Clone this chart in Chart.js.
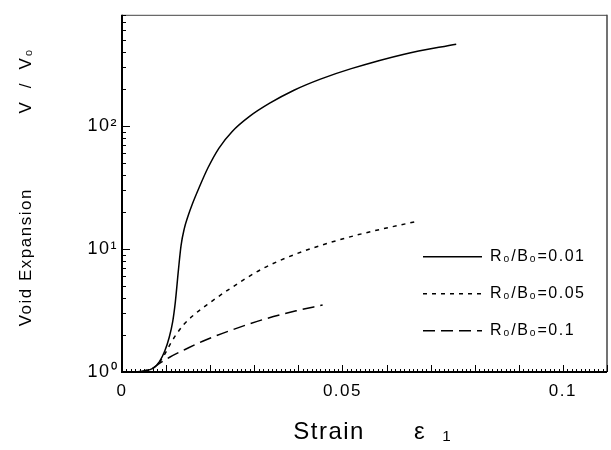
<!DOCTYPE html>
<html>
<head>
<meta charset="utf-8">
<script src="https://cdn.jsdelivr.net/npm/chart.js@4/dist/chart.umd.min.js"></script>
<style>
  body { margin: 0; background: #fff; }
  canvas { display: block; }
</style>
</head>
<body>
<canvas id="graph" width="611" height="450"></canvas>
<script>
// (strain eps_1 vs V/V0)
var strain001 = [0.003, 0.005, 0.007, 0.0085, 0.0097, 0.0107, 0.0115, 0.0121, 0.0128, 0.0134, 0.0141, 0.015, 0.016, 0.0175, 0.0195, 0.022, 0.025, 0.029, 0.0335, 0.039, 0.045, 0.052, 0.064, 0.0758];
var void001 = [1.0, 1.021, 1.072, 1.216, 1.479, 1.905, 2.57, 3.72, 6.76, 10.7, 14.5, 18.6, 23.4, 31.6, 45.7, 66.1, 90.2, 120, 153, 195, 240, 292, 383, 462];

var strain005 = [0.003, 0.005, 0.007, 0.0085, 0.0097, 0.011, 0.0123, 0.014, 0.016, 0.0198, 0.0244, 0.0319, 0.0395, 0.047, 0.0546, 0.0663];
var void005 = [1.0, 1.021, 1.072, 1.202, 1.396, 1.698, 2.018, 2.427, 2.851, 3.631, 4.732, 6.918, 9.12, 11.22, 13.34, 16.6];

var strain01 = [0.003, 0.005, 0.007, 0.0085, 0.0108, 0.015, 0.0183, 0.0244, 0.0319, 0.0395, 0.0455];
var void01 = [1.0, 1.021, 1.072, 1.175, 1.318, 1.567, 1.778, 2.163, 2.661, 3.141, 3.499];

var seriesLabels = ['R\u2080/B\u2080=0.01', 'R\u2080/B\u2080=0.05', 'R\u2080/B\u2080=0.1'];

var xTicks = [0, 0.05, 0.1];
var xTickLabels = ['0', '0.05', '0.1'];
var yTicks = [1, 10, 100];
var yTickLabels = ['10\u2070', '10\u00b9', '10\u00b2'];

function toPoints(xs, ys) {
    var pts = [];
    for (var i = 0; i < xs.length; i++) {
        pts.push({x: xs[i], y: ys[i]});
    }
    return pts;
}

var FONT = "'Liberation Sans', Arial, sans-serif";

// inward ticks + frame like the original plot
var framePlugin = {
    id: 'frame',
    beforeUpdate: function(chart) { chart.ctx.letterSpacing = '1.5px'; },
    beforeDraw: function(chart) { chart.ctx.letterSpacing = '1.5px'; },
    afterLayout: function(chart) {
        // legend sits inside the plot, lower right
        var lg = chart.legend, area = chart.chartArea;
        lg.left = area.left + 280;
        lg.right = area.right;
        lg.top = area.top + 213;
        lg.bottom = area.bottom;
        lg.height = lg.bottom - lg.top;
    },
    afterDraw: function(chart) {
        var ctx = chart.ctx, area = chart.chartArea;
        var xs = chart.scales.x, ys = chart.scales.y;
        ctx.save();
        ctx.setLineDash([]);
        ctx.strokeStyle = '#444';
        ctx.lineWidth = 1;
        ctx.beginPath();
        ctx.moveTo(area.left, area.top + 0.5);
        ctx.lineTo(area.right, area.top + 0.5);
        ctx.stroke();
        ctx.lineWidth = 1.5;
        ctx.beginPath();
        ctx.moveTo(area.right, area.top);
        ctx.lineTo(area.right, area.bottom);
        ctx.stroke();

        ctx.strokeStyle = '#000';
        ctx.lineWidth = 2;
        ctx.beginPath();
        ctx.moveTo(area.left, area.top);
        ctx.lineTo(area.left, area.bottom);
        ctx.lineTo(area.right, area.bottom);
        ctx.stroke();

        ctx.lineWidth = 1;
        ctx.beginPath();
        for (var i = 1; i <= 110; i++) {
            var px = Math.round(xs.getPixelForValue(i / 1000)) + 0.5;
            var len = (i % 10 === 0) ? 7 : 3;
            ctx.moveTo(px, area.bottom);
            ctx.lineTo(px, area.bottom - len);
        }
        for (var d = 1; d <= 100; d *= 10) {
            for (var k = 1; k <= 9; k++) {
                var v = d * k;
                if (v > ys.max || (v === 1)) continue;
                var py = Math.round(ys.getPixelForValue(v)) + 0.5;
                ctx.moveTo(area.left, py);
                ctx.lineTo(area.left + (k === 1 ? 8 : 4), py);
            }
        }
        ctx.stroke();
        ctx.restore();
    }
};

var ctx = document.getElementById('graph').getContext('2d');
var chart = new Chart(ctx, {
    type: 'line',
    data: {
        datasets: [
            {
                label: seriesLabels[0],
                data: toPoints(strain001, void001),
                borderColor: '#000',
                borderWidth: 1.5,
                borderDash: [],
                pointRadius: 0,
                fill: false,
                cubicInterpolationMode: 'monotone'
            },
            {
                label: seriesLabels[1],
                data: toPoints(strain005, void005),
                borderColor: '#000',
                borderWidth: 1.5,
                borderDash: [4, 5],
                pointRadius: 0,
                fill: false,
                cubicInterpolationMode: 'monotone'
            },
            {
                label: seriesLabels[2],
                data: toPoints(strain01, void01),
                borderColor: '#000',
                borderWidth: 1.5,
                borderDash: [12, 6],
                pointRadius: 0,
                fill: false,
                cubicInterpolationMode: 'monotone'
            }
        ]
    },
    options: {
        responsive: false,
        animation: false,
        events: [],
        layout: { padding: { top: 10, right: 4, left: 0, bottom: 0 } },
        plugins: {
            tooltip: { enabled: false },
            legend: {
                position: 'chartArea',
                align: 'start',
                labels: {
                    usePointStyle: true,
                    pointStyle: 'line',
                    pointStyleWidth: 59,
                    padding: 21,
                    color: '#000',
                    font: { family: FONT, size: 16 },
                    // point style loses the dash, put it back from the dataset
                    generateLabels: function(chart) {
                        var items = Chart.defaults.plugins.legend.labels.generateLabels(chart);
                        items.forEach(function(item) {
                            var ds = chart.data.datasets[item.datasetIndex];
                            item.lineDash = ds.borderDash;
                            item.lineWidth = ds.borderWidth;
                            item.strokeStyle = ds.borderColor;
                        });
                        return items;
                    }
                }
            }
        },
        scales: {
            x: {
                type: 'linear',
                min: 0,
                max: 0.11,
                grid: { display: false, drawTicks: false },
                border: { display: false },
                afterBuildTicks: function(scale) {
                    scale.ticks = xTicks.map(function(v) { return {value: v}; });
                },
                afterFit: function(scale) { scale.height = 78; },
                ticks: {
                    padding: 9,
                    color: '#000',
                    maxRotation: 0,
                    font: { family: FONT, size: 17 },
                    callback: function(value) { return xTickLabels[xTicks.indexOf(value)]; }
                },
                title: {
                    display: true,
                    text: '  Strain      \u03b5  \u2081',
                    color: '#000',
                    font: { family: FONT, size: 24 },
                    padding: { top: 0, bottom: 3 }
                }
            },
            y: {
                type: 'logarithmic',
                min: 1,
                max: 800,
                grid: { display: false, drawTicks: false },
                border: { display: false },
                afterBuildTicks: function(scale) {
                    scale.ticks = yTicks.map(function(v) { return {value: v}; });
                },
                afterFit: function(scale) { scale.width = 122; },
                ticks: {
                    padding: 4,
                    color: '#000',
                    font: { family: FONT, size: 18 },
                    callback: function(value) { return yTickLabels[yTicks.indexOf(value)]; }
                },
                title: {
                    display: true,
                    text: '  Void Expansion            V  /  V\u2080',
                    color: '#000',
                    font: { family: FONT, size: 17 },
                    padding: { top: 16, bottom: 0 }
                }
            }
        }
    },
    plugins: [framePlugin]
});
</script>
</body>
</html>
